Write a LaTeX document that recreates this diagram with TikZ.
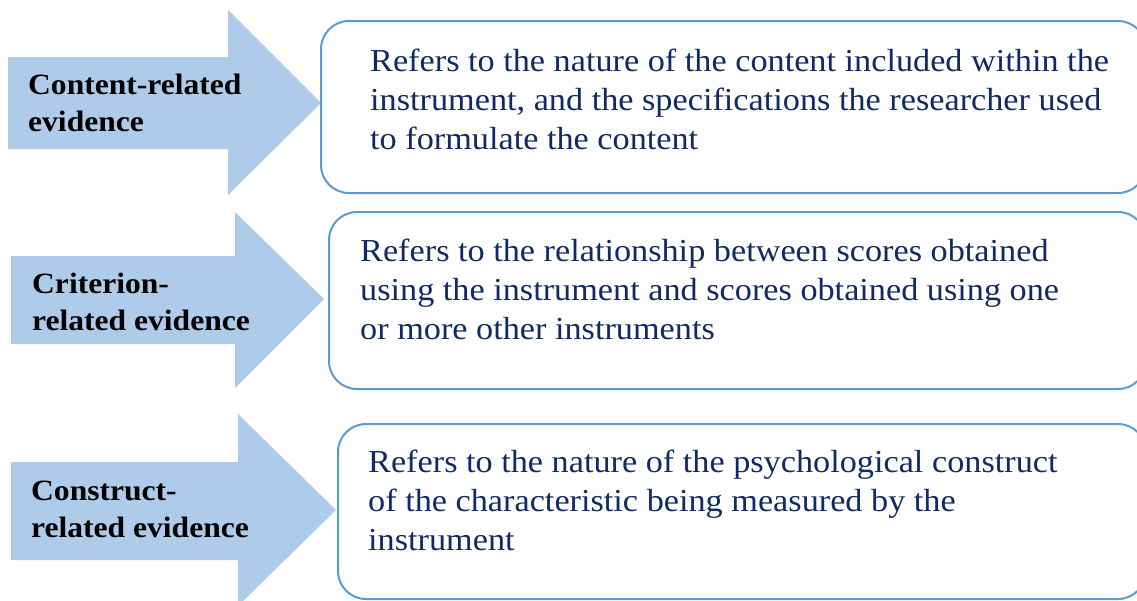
\documentclass[tikz,border=0pt]{standalone}
\usepackage{fontspec}
\setmainfont[FakeStretch=1.07]{Liberation Serif}
\definecolor{arrowfill}{HTML}{AECCEA}
\definecolor{boxline}{HTML}{5B9BD5}
\definecolor{navytext}{RGB}{16,42,100}
\begin{document}
\begin{tikzpicture}[x=1pt,y=-1pt,
  arrowshape/.style={fill=arrowfill,draw=none},
  descbox/.style={draw=boxline,line width=2pt,rounded corners=28pt,fill=white,anchor=north west,inner sep=0pt},
  desc/.style={anchor=base west,inner sep=0pt,text=navytext,font=\fontsize{32}{39}\selectfont},
  lbl/.style={anchor=base west,inner sep=0pt,text=black,font=\bfseries\fontsize{29.5}{37}\selectfont}]
\useasboundingbox (0,0) rectangle (1137,600);
\clip (0,0) rectangle (1137,600);
\fill[white] (0,0) rectangle (1137,600);
% arrows
\fill[arrowshape] (8,57) -- (228,57) -- (228,10) -- (321,103) -- (228,195) -- (228,149) -- (8,149) -- cycle;
\fill[arrowshape] (11,256) -- (235,256) -- (235,212) -- (324,299) -- (235,388) -- (235,344) -- (11,344) -- cycle;
\fill[arrowshape] (11,462) -- (238,462) -- (238,414) -- (336,510) -- (238,606) -- (238,560) -- (11,560) -- cycle;
% boxes
\node[descbox,minimum width=825pt,minimum height=172pt] (box1) at (320,20) {};
\node[descbox,minimum width=817pt,minimum height=177pt] (box2) at (328,211) {};
\node[descbox,minimum width=808pt,minimum height=175pt] (box3) at (337,423) {};
% labels
\node[lbl] (lab1) at (28,94) {\begin{tabular}[t]{@{}l@{}}Content-related\\evidence\end{tabular}};
\node[lbl] (lab2) at (32,293) {\begin{tabular}[t]{@{}l@{}}Criterion-\\related evidence\end{tabular}};
\node[lbl] (lab3) at (31,500) {\begin{tabular}[t]{@{}l@{}}Construct-\\related evidence\end{tabular}};
% descriptions
\node[desc] (txt1) at (370,71) {\begin{tabular}[t]{@{}l@{}}Refers to the nature of the content included within the\\instrument, and the specifications the researcher used\\to formulate the content\end{tabular}};
\node[desc] (txt2) at (360,261) {\begin{tabular}[t]{@{}l@{}}Refers to the relationship between scores obtained\\using the instrument and scores obtained using one\\or more other instruments\end{tabular}};
\node[desc] (txt3) at (368,472) {\begin{tabular}[t]{@{}l@{}}Refers to the nature of the psychological construct\\of the characteristic being measured by the\\instrument\end{tabular}};
\end{tikzpicture}
\end{document}
